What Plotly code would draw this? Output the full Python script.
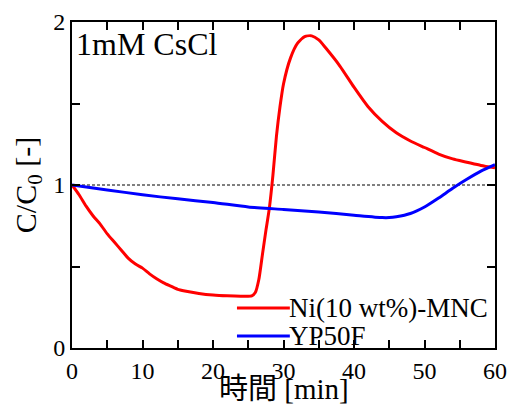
import plotly.graph_objects as go

# Data
x_red = [0, 1, 2, 3, 4, 5, 6, 7, 8, 9, 10, 11, 12, 13, 14, 15, 16, 18, 20, 22, 24,
         25.5, 26, 26.5, 27, 27.5, 28, 28.5, 29, 29.5, 30, 31, 32, 33, 34, 35, 36,
         38, 40, 42, 44, 46, 48, 50, 52, 54, 56, 58, 60]
y_red = [1.0, 0.94, 0.87, 0.81, 0.76, 0.70, 0.65, 0.60, 0.55, 0.515, 0.49, 0.455, 0.425,
         0.40, 0.38, 0.36, 0.35, 0.335, 0.325, 0.32, 0.318,
         0.32, 0.34, 0.42, 0.57, 0.72, 0.86, 1.06, 1.30, 1.48, 1.62, 1.78, 1.87, 1.91,
         1.915, 1.89, 1.84, 1.73, 1.60, 1.48, 1.39, 1.32, 1.27, 1.23, 1.19, 1.16,
         1.14, 1.12, 1.105]

x_blue = [0, 5, 10, 15, 20, 25, 30, 35, 40, 44, 45, 46, 48, 50, 52, 54, 56, 58, 60]
y_blue = [1.0, 0.97, 0.94, 0.915, 0.893, 0.865, 0.85, 0.835, 0.815, 0.80, 0.80, 0.805,
          0.825, 0.865, 0.92, 0.98, 1.035, 1.085, 1.125]

ref_level = 1.0
series_names = ["Ni(10 wt%)-MNC", "YP50F"]
series_colors = ["#ff0000", "#0000ff"]
label_text = "1mM CsCl"
x_title = "時間 [min]"
y_title = "C/C<sub>0</sub> [-]"

FONT = "Liberation Serif, Noto Sans CJK JP, serif"

fig = go.Figure()
for xs, ys, nm, col in [(x_red, y_red, series_names[0], series_colors[0]),
                        (x_blue, y_blue, series_names[1], series_colors[1])]:
    fig.add_trace(go.Scatter(x=xs, y=ys, mode="lines", name=nm, showlegend=False,
                             line=dict(color=col, width=3, shape="spline", smoothing=0.6)))

fig.add_shape(type="line", xref="x", yref="y", x0=0, x1=60, y0=ref_level, y1=ref_level,
              line=dict(color="black", width=1, dash="3px,2px"), layer="below")

fig.add_annotation(text=label_text, xref="paper", yref="paper", x=0.005, y=0.995,
                   xanchor="left", yanchor="top", showarrow=False,
                   font=dict(family=FONT, size=32, color="black"))

# hand-placed legend (long sample lines as in the reference)
leg_y = [0.123, 0.037]
for nm, col, ly in zip(series_names, series_colors, leg_y):
    fig.add_shape(type="line", xref="paper", yref="paper", x0=0.39, x1=0.515, y0=ly, y1=ly,
                  line=dict(color=col, width=3))
    fig.add_annotation(text=nm, xref="paper", yref="paper", x=0.508, y=ly,
                       xanchor="left", yanchor="middle", showarrow=False,
                       font=dict(family=FONT, size=27, color="black"))

# x-axis title placed as annotation for precise vertical position
fig.add_annotation(text=x_title, xref="paper", yref="paper", x=0.5, y=-0.125,
                   xanchor="center", yanchor="middle", showarrow=False,
                   font=dict(family=FONT, size=29, color="black"))

axis_common = dict(showline=True, linecolor="black", linewidth=2, mirror="ticks",
                   ticks="inside", ticklen=8, tickwidth=1.5, tickcolor="black",
                   showgrid=False, zeroline=False, automargin=False,
                   tickfont=dict(family=FONT, size=24, color="black"))

fig.update_xaxes(range=[0, 60], dtick=10, tick0=0,
                 minor=dict(dtick=5, ticks="inside", ticklen=8, tickwidth=1.5, tickcolor="black"),
                 **axis_common)
fig.update_yaxes(range=[0, 2], dtick=1, tick0=0,
                 minor=dict(dtick=0.5, ticks="inside", ticklen=8, tickwidth=1.5, tickcolor="black"),
                 title=dict(text=y_title, font=dict(family=FONT, size=30, color="black"),
                            standoff=8),
                 **axis_common)

fig.update_layout(
    width=508, height=406,
    margin=dict(l=72, r=13, t=22, b=58),
    plot_bgcolor="white", paper_bgcolor="white",
    showlegend=False,
)

fig.write_html("out.html", config={"displayModeBar": False},
               post_script="document.body.style.margin='0';document.body.style.overflow='hidden';")
